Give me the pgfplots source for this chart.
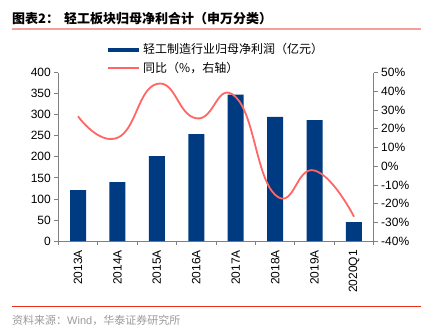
\documentclass[border=0pt]{standalone}
\usepackage{pgfplots}
\pgfplotsset{compat=1.18}
\usepackage{fontspec}
\setmainfont{Liberation Sans}
\newfontfamily\cjk{Noto Sans CJK SC}
\definecolor{barblue}{HTML}{003A80}
\definecolor{linered}{HTML}{FF6666}
\definecolor{axgray}{HTML}{808080}
\definecolor{titleline}{HTML}{F4A09A}
\definecolor{botline}{HTML}{E8321E}
\definecolor{srcgray}{HTML}{9A9A9A}
\begin{document}
\begin{tikzpicture}[x=1bp,y=1bp]
\path[use as bounding box] (0,0) rectangle (433,332);
% title
\node[anchor=west,inner sep=0] at (12,313) {\fontsize{13bp}{15bp}\selectfont\cjk\bfseries 图表2：};
\node[anchor=west,inner sep=0] at (64,313) {\fontsize{13bp}{15bp}\selectfont\cjk\bfseries 轻工板块归母净利合计（申万分类）};
\draw[titleline,line width=1.2bp] (12,303) -- (421,303);
% legend
\fill[barblue] (108,280.5) rectangle (139,284.5);
\node[anchor=west,inner sep=0] at (143,283) {\fontsize{12bp}{14bp}\selectfont\cjk 轻工制造行业归母净利润（亿元）};
\draw[linered,line width=1.8bp] (108,264) -- (139,264);
\node[anchor=west,inner sep=0] at (143,264) {\fontsize{12bp}{14bp}\selectfont\cjk 同比（\%，右轴）};
% bottom
\draw[botline,line width=0.8bp] (12,26) -- (421,26);
\node[anchor=west,inner sep=0,text=srcgray] at (12,12) {\fontsize{11bp}{13bp}\selectfont\cjk 资料来源：\rmfamily Wind\cjk，华泰证券研究所};

\begin{axis}[
  at={(58.3bp,91bp)}, anchor=south west, scale only axis,
  width=315.4bp, height=168.3bp,
  xmin=-0.5, xmax=7.5, ymin=0, ymax=400,
  axis y line*=left, axis x line*=bottom,
  axis line style={-,axgray,line width=0.8bp},
  ytick={0,50,...,400},
  xtick={0,...,7},
  xticklabels={2013A,2014A,2015A,2016A,2017A,2018A,2019A,2020Q1},
  minor xtick={-0.5,0.5,...,7.5},
  major x tick style={draw=none},
  minor x tick style={axgray,line width=0.8bp},
  y tick style={axgray,line width=0.8bp},
  tick align=outside,
  major tick length=4bp, minor tick length=4bp,
  tick label style={font=\fontsize{12bp}{14bp}\selectfont},
  x tick label style={rotate=90, anchor=east, inner xsep=5bp},
  /pgf/number format/assume math mode=true,
  clip=false,
]
\addplot[ybar, bar width=16bp, fill=barblue, draw=none] coordinates {
  (0,121) (1,140) (2,202) (3,254) (4,348) (5,295) (6,287) (7,45)
};
\end{axis}

\begin{axis}[
  at={(58.3bp,91bp)}, anchor=south west, scale only axis,
  width=315.4bp, height=168.3bp,
  xmin=-0.5, xmax=7.5, ymin=-40, ymax=50,
  axis y line*=right, axis x line=none,
  axis line style={-,axgray,line width=0.8bp},
  ytick={-40,-30,...,50},
  yticklabel={\pgfmathprintnumber{\tick}\%},
  y tick style={axgray,line width=0.8bp},
  tick align=outside, major tick length=4bp,
  tick label style={font=\fontsize{12bp}{14bp}\selectfont},
  /pgf/number format/assume math mode=true,
]
\addplot[smooth, tension=0.85, linered, line width=1.8bp] coordinates {
  (0,26.7) (1,15.2) (2,44) (3,25.6) (4,37) (5,-15.3) (6,-2.3) (7,-27)
};
\end{axis}
\end{tikzpicture}
\end{document}
